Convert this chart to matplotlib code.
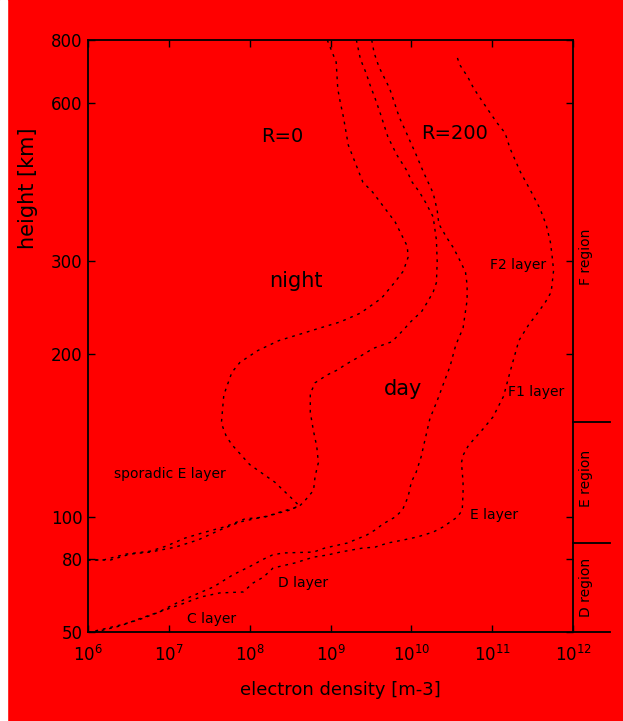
import numpy as np
import matplotlib
matplotlib.use('Agg')
import matplotlib.pyplot as plt
from matplotlib.patches import Rectangle
from matplotlib.transforms import blended_transform_factory

# electron density given as log10(n [m-3]), height in km
night_r0_logn = [8.96, 9.07, 9.09, 9.12, 9.16, 9.22, 9.40, 9.52, 9.80, 9.95, 9.96, 9.90, 9.80,
                 9.63, 9.37, 9.12, 8.87, 8.62, 8.36, 8.10, 7.88, 7.78, 7.68, 7.65, 7.71, 7.78,
                 8.00, 8.31, 8.50, 8.61, 8.50, 8.39, 8.19, 7.94, 7.70, 7.45, 7.20, 6.97, 6.77,
                 6.47, 6.19, 6.00]
night_r0_h = [800, 723, 640, 603, 564, 499, 424, 406, 356, 320, 305, 287, 274,
              255, 239, 230, 224, 218, 212, 203, 193, 185, 168, 149, 141, 136,
              125, 116, 109, 105, 103, 102, 100, 99, 95, 92.3, 89.4, 85.7, 83.4,
              82.1, 79.5, 79.5]

night_r200_logn = [9.32, 9.37, 9.44, 9.49, 9.55, 9.61, 9.71, 9.82, 9.94, 10.01, 10.10, 10.18,
                   10.27, 10.31, 10.32, 10.31, 10.27, 10.20, 10.13, 9.99, 9.90, 9.76, 9.53,
                   9.39, 9.18, 9.09, 8.96, 8.81, 8.75, 8.75, 8.79, 8.83, 8.85, 8.81, 8.79,
                   8.69, 8.61, 8.41, 8.23, 7.88, 7.63, 7.36, 7.08, 6.77, 6.52, 6.28, 6.00]
night_r200_h = [800, 733, 688, 651, 614, 577, 517, 478, 447, 424, 406, 387,
                364, 329, 299, 273, 262, 251, 241, 230, 222, 211, 205,
                199, 191, 187, 183, 177, 169, 156, 144, 135, 126, 119, 112,
                107.5, 104.5, 102.5, 100.5, 97.4, 93.3, 88.5, 85.2, 83.0, 82.1, 79.5, 79.5]

day_r0_logn = [9.51, 9.54, 9.60, 9.73, 9.80, 9.85, 9.94, 9.99, 10.05, 10.15, 10.27, 10.32,
               10.34, 10.44, 10.52, 10.59, 10.67, 10.69, 10.69, 10.64, 10.55, 10.52, 10.48,
               10.39, 10.32, 10.23, 10.16, 10.12, 10.06, 10.00, 9.96, 9.89, 9.80, 9.65,
               9.55, 9.45, 9.21, 8.93, 8.79, 8.41, 8.28, 8.15, 8.04, 7.79, 7.55, 7.32,
               7.10, 6.85, 6.62, 6.40, 6.15, 6.02]
day_r0_h = [800, 754, 707, 642, 595, 564, 526, 505, 482, 443, 404, 375,
            353, 332, 318, 303, 286, 270, 253, 224, 208, 200, 190,
            175, 164, 152, 137, 129, 121, 116, 109, 103, 100, 96.4,
            93.3, 90.9, 87.1, 84.8, 83.0, 82.6, 81.7, 79.5, 77.0, 72.2, 66.8, 63.5,
            60.3, 56.5, 54.0, 52.3, 50.7, 50]

day_r200_logn = [10.57, 10.60, 10.70, 10.77, 10.85, 10.95, 11.06, 11.16, 11.22, 11.35, 11.47,
                 11.59, 11.67, 11.72, 11.74, 11.76, 11.73, 11.66, 11.57, 11.45, 11.33, 11.25,
                 11.22, 11.14, 11.01, 10.88, 10.77, 10.70, 10.64, 10.62, 10.64, 10.64, 10.63,
                 10.57, 10.39, 10.27, 10.07, 9.90, 9.71, 9.55, 9.40, 9.12, 8.96, 8.79, 8.56,
                 8.29, 8.17, 8.04, 7.92, 7.63, 7.39, 7.20, 6.95, 6.66, 6.40, 6.09]
day_r200_h = [737, 714, 675, 642, 614, 582, 550, 526, 492, 443, 410,
              378, 351, 326, 308, 288, 262, 251, 240, 227, 212, 192,
              185, 167, 153, 145, 139, 135, 130, 126, 116, 111, 103,
              100, 94.8, 92.3, 89.9, 88.5, 87.1, 85.2, 84.8, 83.0, 81.7, 80.8, 78.0,
              75.5, 71.2, 68.5, 64.7, 64.3, 62.6, 60.3, 57.6, 54.7, 52.0, 50]

height_ticks = [50, 80, 100, 200, 300, 600, 800]
density_exps = [6, 7, 8, 9, 10, 11, 12]
region_bounds = [150, 87, 50]

# the height axis of the original is not evenly spaced; rebuild it from its ticks
tick_pos = np.array([0, 73, 115, 278, 371, 529, 592], dtype=float)
tick_lg = np.log10(height_ticks)
s_lo = (tick_pos[1] - tick_pos[0]) / (tick_lg[1] - tick_lg[0])
s_hi = (tick_pos[-1] - tick_pos[-2]) / (tick_lg[-1] - tick_lg[-2])


def fwd(h):
    l = np.log10(np.maximum(np.asarray(h, dtype=float), 1e-9))
    out = np.interp(l, tick_lg, tick_pos)
    out = np.where(l < tick_lg[0], tick_pos[0] + (l - tick_lg[0]) * s_lo, out)
    out = np.where(l > tick_lg[-1], tick_pos[-1] + (l - tick_lg[-1]) * s_hi, out)
    return out


def inv(p):
    p = np.asarray(p, dtype=float)
    l = np.interp(p, tick_pos, tick_lg)
    l = np.where(p < tick_pos[0], tick_lg[0] + (p - tick_pos[0]) / s_lo, l)
    l = np.where(p > tick_pos[-1], tick_lg[-1] + (p - tick_pos[-1]) / s_hi, l)
    return 10 ** l


red = '#ff0000'
fig = plt.figure(figsize=(6.23, 7.21), dpi=100, facecolor=red)
fig.patches.append(Rectangle((0, 0), 7 / 623, 1, transform=fig.transFigure,
                             color='white', zorder=-1))
ax = fig.add_axes([88 / 623, 1 - 632 / 721, 485 / 623, 592 / 721])
ax.set_facecolor(red)

ls = (0, (2, 3.5))
for lg, h in [(night_r0_logn, night_r0_h), (night_r200_logn, night_r200_h),
              (day_r0_logn, day_r0_h), (day_r200_logn, day_r200_h)]:
    ax.plot(10 ** np.array(lg), h, color='black', lw=1.0, ls=ls)

ax.set_xscale('log')
ax.set_yscale('function', functions=(fwd, inv))
ax.set_xlim(1e6, 1e12)
ax.set_ylim(50, 800)
ax.set_xticks([10.0 ** e for e in density_exps])
ax.set_xticklabels([r'$10^{%d}$' % e for e in density_exps])
ax.xaxis.set_minor_locator(matplotlib.ticker.NullLocator())
ax.set_yticks(height_ticks)
ax.set_yticklabels([str(t) for t in height_ticks])
ax.yaxis.set_minor_locator(matplotlib.ticker.NullLocator())
ax.tick_params(direction='in', length=5, width=1, top=True, right=True, labelsize=12)
ax.tick_params(axis='x', pad=9)
ax.tick_params(axis='y', pad=4)
for sp in ax.spines.values():
    sp.set_linewidth(1.3)

# curve and layer labels
ax.text(10 ** 8.40, 517, 'R=0', fontsize=14, ha='center', va='center')
ax.text(10 ** 10.54, 526, 'R=200', fontsize=14, ha='center', va='center')
ax.text(10 ** 8.57, 275, 'night', fontsize=15, ha='center', va='center')
ax.text(10 ** 9.90, 172, 'day', fontsize=15, ha='center', va='center')
ax.text(10 ** 11.32, 295, 'F2 layer', fontsize=10, ha='center', va='center')
ax.text(10 ** 11.54, 170, 'F1 layer', fontsize=10, ha='center', va='center')
ax.text(10 ** 11.02, 101, 'E layer', fontsize=10, ha='center', va='center')
ax.text(10 ** 7.01, 120, 'sporadic E layer', fontsize=10, ha='center', va='center')
ax.text(10 ** 8.66, 68.5, 'D layer', fontsize=10, ha='center', va='center')
ax.text(10 ** 7.53, 54.3, 'C layer', fontsize=10, ha='center', va='center')

# region brackets on the right
tr = blended_transform_factory(ax.transAxes, ax.transData)
for b in region_bounds:
    ax.plot([1.0, 1.076], [b, b], color='black', lw=1.3, transform=tr, clip_on=False)
for name, hc in [('F region', 306), ('E region', 118), ('D region', 66.8)]:
    ax.text(1.027, hc, name, fontsize=10, rotation=90, ha='center', va='center',
            transform=tr)

fig.text(28 / 623, 1 - 188 / 721, 'height [km]', fontsize=15, rotation=90,
         ha='center', va='center')
fig.text(340 / 623, 1 - 690 / 721, 'electron density [m-3]', fontsize=13,
         ha='center', va='center')

fig.savefig('out.png', dpi=100, facecolor=red)
